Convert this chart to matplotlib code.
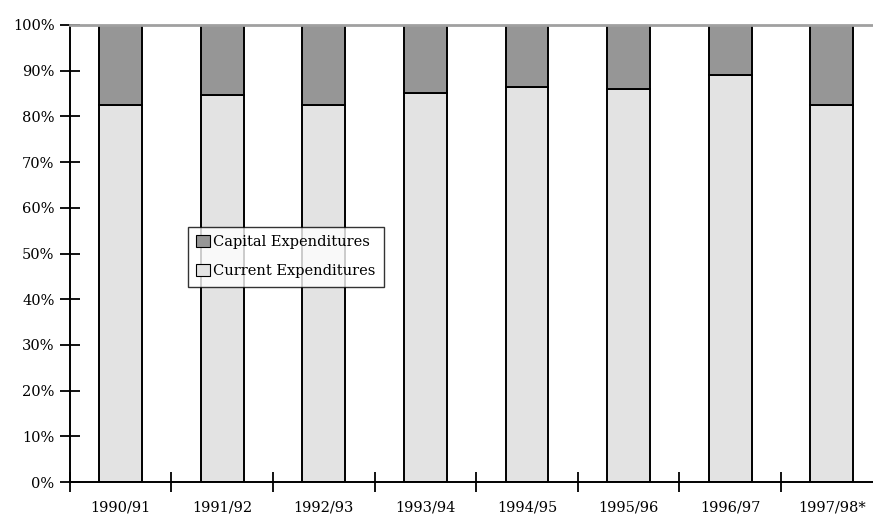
import numpy as np
import matplotlib.pyplot as plt
from matplotlib.ticker import FixedLocator, NullFormatter

years = ['1990/91', '1991/92', '1992/93', '1993/94', '1994/95', '1995/96', '1996/97', '1997/98*']
current = [82.5, 84.7, 82.5, 85.1, 86.4, 86.0, 89.1, 82.5]
capital = [100 - c for c in current]

plt.rcParams['font.family'] = ['DejaVu Serif', 'Liberation Serif']

fig = plt.figure(figsize=(8.73, 5.2), dpi=100)
ax = fig.add_axes([0.080, 0.073, 0.931, 0.879])

x = np.arange(len(years))
w = 0.42
ax.bar(x, current, w, color='#e3e3e3', edgecolor='black', linewidth=1.4,
       label='Current Expenditures')
ax.bar(x, capital, w, bottom=current, color='#969696', edgecolor='black', linewidth=1.4,
       label='Capital Expenditures')

ax.set_xlim(-0.5, 7.5)
ax.set_ylim(0, 100)

ax.set_yticks(np.arange(0, 101, 10))
ax.set_yticklabels([f'{v}%' for v in range(0, 101, 10)], fontsize=10.5)
ax.set_xticks(x)
ax.set_xticklabels(years, fontsize=10.5)
ax.tick_params(axis='x', which='major', length=0, pad=13)
ax.xaxis.set_minor_locator(FixedLocator(np.arange(-0.5, 8, 1)))
ax.xaxis.set_minor_formatter(NullFormatter())
ax.tick_params(axis='x', which='minor', direction='inout', length=14, width=1.3)
ax.tick_params(axis='y', direction='inout', length=14, width=1.3, pad=4)

for s in ['left', 'bottom']:
    ax.spines[s].set_linewidth(1.4)
ax.spines['right'].set_visible(False)
ax.spines['top'].set_color('#a0a0a0')
ax.spines['top'].set_linewidth(2)

h, l = ax.get_legend_handles_labels()
leg = ax.legend(h[::-1], l[::-1], loc='upper left', bbox_to_anchor=(0.136, 0.575),
                fancybox=False, edgecolor='black', fontsize=10.5,
                handlelength=0.9, handleheight=0.9, handletextpad=0.25,
                labelspacing=1.0, borderpad=0.6)
leg.get_frame().set_linewidth(1.0)
for p in leg.get_patches():
    p.set_linewidth(0.8)

fig.savefig('out.png', dpi=100)
